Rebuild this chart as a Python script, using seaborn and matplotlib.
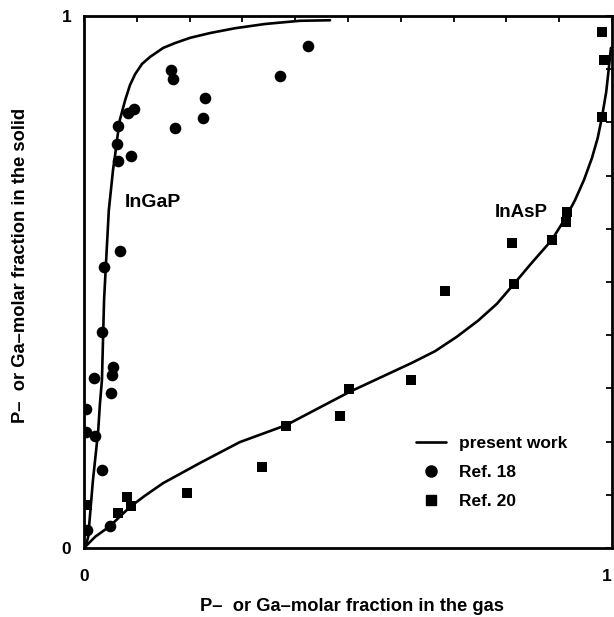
import numpy as np
import pandas as pd
import matplotlib
matplotlib.use("Agg")
import matplotlib.pyplot as plt
from matplotlib.lines import Line2D
import seaborn as sns

# ---- data ----
# Ref. 18 (circles) : InGaP, gas fraction vs solid fraction
ref18_x = [0.424, 0.165, 0.169, 0.371, 0.229, 0.225, 0.172, 0.064, 0.083, 0.095,
           0.0625, 0.064, 0.089, 0.068, 0.038, 0.034, 0.019, 0.055, 0.053, 0.051,
           0.004, 0.004, 0.021, 0.034, 0.006, 0.049]
ref18_y = [0.944, 0.898, 0.882, 0.887, 0.846, 0.808, 0.789, 0.793, 0.818, 0.825,
           0.759, 0.727, 0.737, 0.558, 0.528, 0.406, 0.320, 0.340, 0.325, 0.291,
           0.261, 0.218, 0.211, 0.147, 0.034, 0.041]

# Ref. 20 (squares) : InAsP
ref20_x = [0.006, 0.081, 0.064, 0.089, 0.195, 0.337, 0.383, 0.485, 0.502, 0.619,
           0.684, 0.811, 0.814, 0.886, 0.913, 0.915, 0.981, 0.985, 0.981]
ref20_y = [0.081, 0.096, 0.066, 0.079, 0.103, 0.152, 0.229, 0.248, 0.299, 0.316,
           0.483, 0.573, 0.496, 0.579, 0.613, 0.632, 0.970, 0.917, 0.810]

# present work : InGaP curve
ingap_x = [0.002, 0.008, 0.013, 0.017, 0.023, 0.027, 0.030, 0.034, 0.036, 0.038,
           0.040, 0.044, 0.047, 0.051, 0.055, 0.059, 0.0625, 0.068, 0.078, 0.087,
           0.097, 0.110, 0.125, 0.150, 0.172, 0.201, 0.239, 0.286, 0.343, 0.409, 0.466]
ingap_y = [0.000, 0.021, 0.081, 0.128, 0.184, 0.222, 0.269, 0.316, 0.391, 0.466,
           0.504, 0.579, 0.635, 0.673, 0.711, 0.739, 0.767, 0.805, 0.842, 0.870,
           0.891, 0.910, 0.923, 0.940, 0.949, 0.959, 0.968, 0.977, 0.985, 0.991, 0.992]

# present work : InAsP curve
inasp_x = [0.000, 0.006, 0.021, 0.049, 0.087, 0.115, 0.150, 0.220, 0.295, 0.383,
           0.502, 0.621, 0.665, 0.706, 0.746, 0.782, 0.814, 0.848, 0.886, 0.913,
           0.930, 0.947, 0.962, 0.973, 0.981, 0.989, 0.994, 0.998]
inasp_y = [0.000, 0.006, 0.021, 0.041, 0.077, 0.098, 0.122, 0.160, 0.199, 0.231,
           0.293, 0.348, 0.370, 0.397, 0.427, 0.459, 0.496, 0.536, 0.579, 0.622,
           0.654, 0.692, 0.733, 0.771, 0.810, 0.857, 0.902, 0.940]

tick_vals = [0.0, 0.1, 0.2, 0.3, 0.4, 0.5, 0.6, 0.7, 0.8, 0.9, 1.0]
tick_labels = ["0", "", "", "", "", "", "", "", "", "", "1"]

xlabel = "P\u2013  or Ga\u2013molar fraction in the gas"
ylabel = "P\u2013  or Ga\u2013molar fraction in the solid"

# ---- plotting ----
sns.set_theme(style="white")
plt.rcParams["font.family"] = ["Liberation Sans", "DejaVu Sans"]
plt.rcParams["font.weight"] = "bold"
plt.rcParams["text.color"] = "black"
plt.rcParams["axes.labelcolor"] = "black"
plt.rcParams["xtick.color"] = "black"
plt.rcParams["ytick.color"] = "black"

fig = plt.figure(figsize=(6.14, 6.17), dpi=100)
ax = fig.add_axes([84 / 614, 1 - 548 / 617, 528 / 614, 532 / 617])

df18 = pd.DataFrame({"x": ref18_x, "y": ref18_y})
df20 = pd.DataFrame({"x": ref20_x, "y": ref20_y})
dg = pd.DataFrame({"x": ingap_x, "y": ingap_y})
da = pd.DataFrame({"x": inasp_x, "y": inasp_y})

sns.lineplot(data=dg, x="x", y="y", sort=False, color="black", lw=1.9, ax=ax)
sns.lineplot(data=da, x="x", y="y", sort=False, color="black", lw=1.9, ax=ax)
sns.scatterplot(data=df18, x="x", y="y", marker="o", s=70, color="black",
                edgecolor="black", linewidth=0, ax=ax, zorder=3)
sns.scatterplot(data=df20, x="x", y="y", marker="s", s=42, color="black",
                edgecolor="black", linewidth=0, ax=ax, zorder=3)

ax.set_xlim(0, 1)
ax.set_ylim(0, 1)
ax.set_xticks(tick_vals)
ax.set_xticklabels(tick_labels)
ax.set_yticks(tick_vals)
ax.set_yticklabels(tick_labels)
ax.tick_params(axis="both", which="both", direction="in", length=4, width=1.3,
               color="black", labelcolor="black", top=True, right=True, labelsize=12.5)
ax.tick_params(axis="x", pad=15)
ax.tick_params(axis="y", pad=9)
ax.get_xticklabels()[-1].set_horizontalalignment("right")
for sp in ax.spines.values():
    sp.set_visible(True)
    sp.set_color("black")
    sp.set_linewidth(2.0)

ax.set_xlabel(xlabel, fontsize=13.2, fontweight="bold", color="black")
ax.set_ylabel(ylabel, fontsize=13.2, fontweight="bold", color="black")
ax.xaxis.set_label_coords((352 - 84) / 528, (548 - 598) / 532)
ax.yaxis.set_label_coords((29 - 84) / 528, (548 - 265) / 532)

ax.text(0.131, 0.650, "InGaP", fontsize=14, fontweight="bold", color="black",
        ha="center", va="center")
ax.text(0.828, 0.630, "InAsP", fontsize=13.5, fontweight="bold", color="black",
        ha="center", va="center")

handles = [
    Line2D([], [], color="black", lw=1.9),
    Line2D([], [], color="black", marker="o", ls="", markersize=8),
    Line2D([], [], color="black", marker="s", ls="", markersize=6.5),
]
labels = ["present work", "Ref. 18", "Ref. 20"]
leg = ax.legend(handles, labels, loc="upper left", bbox_to_anchor=(0.629, 0.21),
                frameon=False, fontsize=12.5, handlelength=1.7, handletextpad=0.75,
                labelspacing=0.78, borderpad=0, borderaxespad=0)
for t in leg.get_texts():
    t.set_fontweight("bold")
    t.set_color("black")

fig.savefig("out.png", dpi=100)
